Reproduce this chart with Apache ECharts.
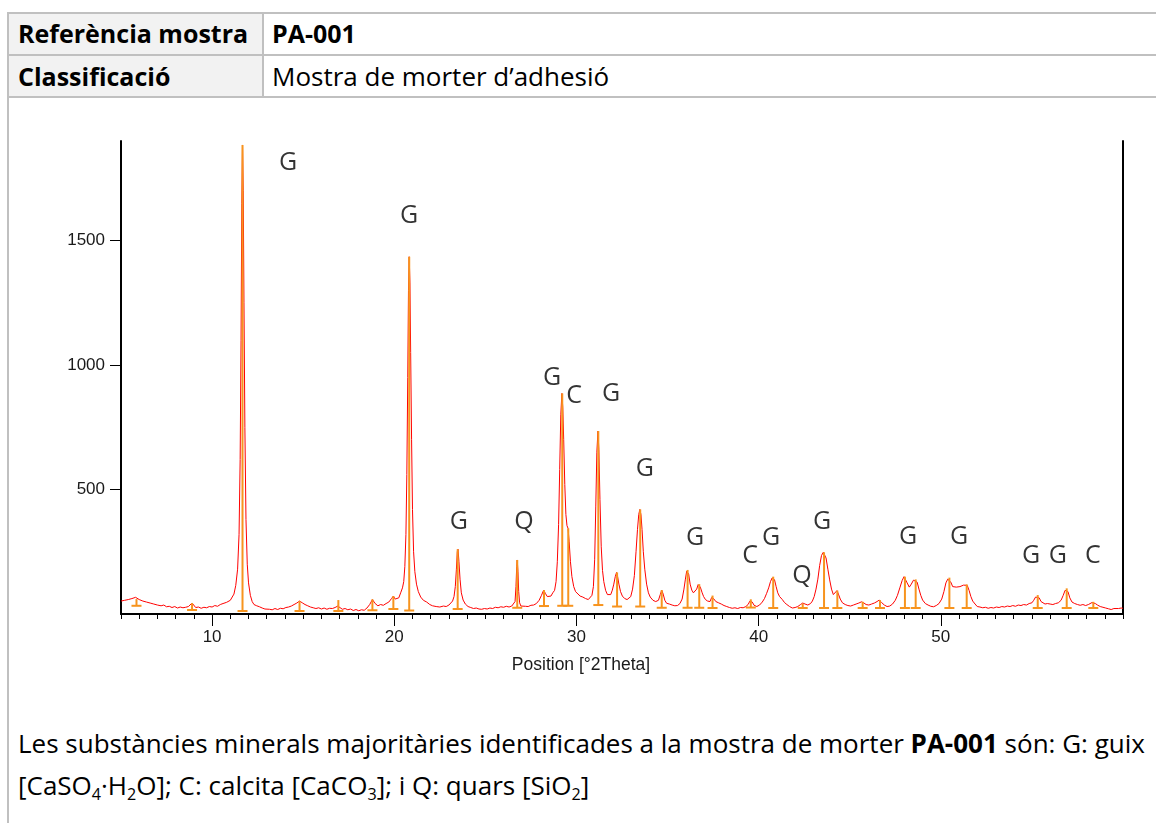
<!DOCTYPE html>
<html>
<head>
<meta charset="utf-8">
<script src="https://cdn.jsdelivr.net/npm/echarts@6/dist/echarts.min.js"></script>
<style>
  html, body { margin:0; padding:0; background:#fff; }
  body { width:1156px; height:823px; overflow:hidden; position:relative; font-family:'Open Sans','Lato',sans-serif; color:#000; }
  .abs { position:absolute; }
  .frame { left:7px; top:12px; width:1400px; height:1000px; border:2px solid #c0c0c0; box-sizing:border-box; }
  .hdr { left:9px; top:14px; width:254px; height:82px; background:#f2f2f2; }
  .hl { height:2px; background:#c0c0c0; left:7px; width:1400px; }
  .vl { width:2px; background:#c0c0c0; left:262px; top:12px; height:85px; }
  .cell { white-space:nowrap; font-size:26px; line-height:42px; }
  .cell.b { font-size:25px; }
  .b { font-weight:bold; }
  sub { font-size:0.62em; vertical-align:baseline; position:relative; top:0.3em; line-height:0; }
  #chart { position:absolute; left:0; top:0; width:1156px; height:823px; pointer-events:none; }
</style>
</head>
<body>
<div class="abs frame"></div>
<div class="abs hdr"></div>
<div class="abs hl" style="top:54px"></div>
<div class="abs hl" style="top:96px"></div>
<div class="abs vl"></div>
<div class="abs cell b" style="left:18px; top:12px;">Referència mostra</div>
<div class="abs cell b" style="left:272px; top:12px;">PA-001</div>
<div class="abs cell b" style="left:18px; top:55px;">Classificació</div>
<div class="abs cell" style="left:272px; top:55px;">Mostra de morter d’adhesió</div>
<div class="abs cell" style="left:18px; top:722px;">Les substàncies minerals majoritàries identificades a la mostra de morter <span class="b">PA-001</span> són: G: guix<br>[CaSO<sub>4</sub>·H<sub>2</sub>O]; C: calcita [CaCO<sub>3</sub>]; i Q: quars [SiO<sub>2</sub>]</div>
<div id="chart"></div>
<script>
// ---- data ----
const xTickLabels = [10, 20, 30, 40, 50];
const yTickLabels = [500, 1000, 1500];

// measured diffraction profile [2theta, counts]
const profile = [
[5.0,52],[5.1,47],[5.2,55],[5.3,50],[5.4,58],[5.5,54],[5.6,62],[5.7,60],[5.8,67],[5.9,63],[6.0,58],[6.1,60],[6.2,52],[6.3,54],[6.4,48],[6.5,50],[6.6,44],[6.7,46],[6.8,40],[6.9,42],[7.0,36],[7.1,39],[7.2,33],[7.35,36],[7.5,29],[7.65,31],[7.8,26],[7.95,30],[8.1,24],[8.25,28],[8.4,25],[8.55,27],[8.7,30],[8.8,38],[8.9,44],[9.0,36],[9.1,26],[9.25,28],[9.4,23],[9.55,27],[9.7,25],[9.85,30],[10.0,28],[10.15,34],[10.3,31],[10.45,38],[10.6,42],[10.7,38],[10.8,47],[10.9,44],[11.0,55],[11.1,62],[11.2,80],
[11.3,115],[11.4,180],[11.48,320],[11.54,620],[11.59,1100],[11.63,1650],[11.67,1884],[11.71,1700],[11.75,1250],[11.8,750],[11.86,380],[11.93,200],[12.0,125],[12.1,75],[12.2,50],[12.3,38],
[12.45,33],[12.6,29],[12.75,24],[12.9,20],[13.0,15],[13.15,19],[13.3,17],[13.45,22],[13.6,18],[13.75,23],[13.9,21],[14.05,26],[14.2,28],[14.35,32],[14.5,38],[14.65,44],[14.8,52],[14.95,45],[15.1,38],[15.25,33],[15.4,28],[15.55,25],[15.7,22],[15.85,25],[16.0,20],[16.15,24],[16.3,19],[16.45,23],[16.6,22],[16.75,26],[16.9,32],[17.0,24],[17.15,19],[17.3,22],[17.45,17],[17.6,20],[17.75,14],[17.9,18],[18.05,13],[18.2,17],[18.35,15],[18.5,24],[18.65,38],[18.8,58],[18.95,42],[19.1,33],[19.25,38],[19.4,35],[19.55,42],[19.7,48],[19.85,62],[19.95,72],[20.05,60],[20.15,55],[20.25,65],[20.35,85],
[20.45,105],[20.52,130],[20.58,190],[20.64,320],[20.69,560],[20.74,950],[20.78,1300],[20.82,1435],[20.86,1330],[20.9,1050],[20.95,700],[21.0,420],[21.06,250],[21.13,170],[21.22,120],[21.32,90],[21.45,68],[21.6,55],[21.78,48],[21.95,38],[22.1,33],[22.3,30],[22.5,28],[22.7,32],[22.85,30],[23.0,36],[23.1,40],[23.2,52],[23.28,70],[23.35,110],[23.41,180],[23.46,250],[23.5,260],[23.55,210],[23.61,140],[23.68,85],[23.78,56],[23.9,40],[24.05,30],[24.2,26],[24.35,22],[24.5,24],[24.65,20],[24.8,19],[24.95,22],[25.1,20],[25.25,24],[25.4,22],[25.55,27],[25.7,25],[25.85,29],[26.0,27],[26.15,31],[26.3,28],[26.45,32],[26.55,34],[26.63,50],[26.68,110],[26.72,190],[26.75,217],[26.79,170],[26.83,90],[26.88,45],[26.95,32],[27.05,29],[27.2,31],[27.35,30],[27.5,35],[27.65,36],[27.8,42],[27.95,55],[28.08,75],[28.2,96],[28.3,82],[28.4,70],[28.5,64],[28.6,72],[28.7,85],[28.8,95],[28.88,130],[28.95,210],[29.02,360],[29.08,580],[29.14,800],[29.2,886],[29.25,830],[29.3,700],[29.36,520],[29.42,400],[29.48,355],[29.54,344],[29.6,290],[29.67,210],[29.75,150],[29.85,110],[29.95,90],[30.05,82],[30.2,72],[30.35,68],[30.5,62],[30.65,58],[30.75,56],[30.85,75],[30.93,110],[31.0,220],[31.06,430],[31.12,650],[31.18,735],[31.23,660],[31.29,460],[31.36,270],[31.43,175],[31.5,130],[31.6,95],[31.7,78],[31.78,70],[31.88,78],[31.97,96],[32.05,120],[32.13,150],[32.2,167],[32.26,150],[32.33,120],[32.42,90],[32.52,72],[32.65,62],[32.78,58],[32.88,56],[32.98,70],[33.08,100],[33.18,155],[33.27,250],[33.35,340],[33.42,400],[33.48,420],[33.54,400],[33.6,340],[33.67,250],[33.75,180],[33.85,120],[33.95,85],[34.05,68],[34.2,55],[34.35,50],[34.5,55],[34.6,78],[34.68,96],[34.76,80],[34.85,55],[34.95,43],[35.1,40],[35.25,36],[35.4,33],[35.55,34],[35.68,42],[35.8,60],[35.9,100],[35.98,140],[36.05,172],[36.1,177],[36.16,160],[36.24,120],[36.33,96],[36.42,85],[36.52,88],[36.6,100],[36.68,118],[36.74,120],[36.8,108],[36.9,85],[36.98,70],[37.08,58],[37.2,52],[37.33,50],[37.42,66],[37.48,74],[37.55,60],[37.65,50],[37.8,45],[37.95,40],[38.1,34],[38.25,30],[38.4,26],[38.55,23],[38.7,25],[38.85,22],[39.0,26],[39.15,25],[39.3,30],[39.42,38],[39.52,52],[39.58,59],[39.65,48],[39.75,35],[39.9,30],[40.05,36],[40.2,48],[40.32,62],[40.44,83],[40.55,105],[40.65,130],[40.74,145],[40.8,150],[40.87,138],[40.96,110],[41.05,85],[41.15,70],[41.22,64],[41.3,58],[41.42,46],[41.55,38],[41.7,30],[41.85,24],[42.0,26],[42.15,30],[42.3,38],[42.42,44],[42.55,40],[42.7,36],[42.85,42],[42.95,52],[43.05,70],[43.15,100],[43.25,140],[43.35,195],[43.45,235],[43.55,248],[43.62,245],[43.7,225],[43.8,180],[43.9,137],[44.0,100],[44.1,78],[44.2,80],[44.3,94],[44.38,80],[44.48,60],[44.6,45],[44.75,38],[44.9,34],[45.05,32],[45.2,36],[45.35,40],[45.5,44],[45.65,49],[45.78,44],[45.9,38],[46.05,36],[46.2,40],[46.35,44],[46.5,50],[46.62,56],[46.75,46],[46.9,36],[47.05,30],[47.2,32],[47.35,40],[47.5,55],[47.62,75],[47.75,105],[47.88,135],[47.98,150],[48.05,148],[48.15,125],[48.27,108],[48.38,120],[48.5,136],[48.6,139],[48.7,128],[48.8,100],[48.9,75],[49.0,56],[49.15,42],[49.3,36],[49.45,31],[49.6,29],[49.75,34],[49.9,42],[50.05,60],[50.17,90],[50.28,125],[50.38,140],[50.47,146],[50.55,128],[50.65,110],[50.75,106],[50.85,108],[50.95,104],[51.05,110],[51.15,112],[51.25,116],[51.35,119],[51.45,115],[51.55,95],[51.65,70],[51.75,52],[51.88,40],[52.0,30],[52.15,28],[52.3,25],[52.45,27],[52.6,23],[52.75,26],[52.9,24],[53.05,28],[53.2,26],[53.35,30],[53.5,28],[53.65,32],[53.8,30],[53.95,34],[54.1,31],[54.25,36],[54.4,34],[54.55,38],[54.7,36],[54.85,42],[55.0,45],[55.1,55],[55.2,68],[55.3,76],[55.4,65],[55.5,50],[55.6,44],[55.72,40],[55.85,42],[56.0,40],[56.15,38],[56.3,42],[56.45,45],[56.6,55],[56.72,75],[56.82,95],[56.9,103],[56.98,90],[57.08,65],[57.2,48],[57.35,42],[57.5,38],[57.65,35],[57.8,38],[57.95,34],[58.1,38],[58.2,42],[58.3,46],[58.38,49],[58.48,42],[58.6,36],[58.75,30],[58.9,27],[59.05,24],[59.2,21],[59.35,18],[59.5,22],[59.6,26],[59.75,22],[59.9,24],[60.0,23]
];

// reference pattern sticks
const stickPos  = [5.85, 8.9, 11.67, 14.8, 16.93, 18.8, 19.95, 20.82, 23.48, 26.75, 28.22, 29.22, 29.55, 31.2, 32.23, 33.5, 34.68, 36.1, 36.74, 37.47, 39.57, 40.8, 42.42, 43.59, 44.32, 45.71, 46.66, 48.03, 48.62, 50.47, 51.42, 55.32, 56.91, 58.37];
const stickTop  = [60, 44, 1884, 52, 56, 59, 72, 1435, 260, 217, 96, 886, 344, 735, 167, 420, 96, 177, 120, 74, 59, 150, 42, 248, 94, 49, 56, 150, 139, 146, 119, 76, 103, 49];
const stickBase = [33, 16, 12, 12, 12, 15, 20, 14, 20, 25, 32, 33, 33, 36, 30, 30, 25, 25, 25, 24, 26, 24, 24, 24, 24, 24, 24, 24, 24, 24, 24, 24, 24, 24];

// phase annotations
const annotText = ['G','G','G','Q','G','C','G','G','G','C','G','Q','G','G','G','G','G','C'];
const annotX    = [14.17, 20.81, 23.55, 27.12, 28.66, 29.87, 31.9, 33.76, 36.51, 39.53, 40.68, 42.38, 43.48, 48.2, 51.0, 54.95, 56.43, 58.35];
const annotY    = [1812, 1599, 370, 370, 948, 876, 884, 582, 305, 233, 305, 153, 370, 309, 309, 233, 233, 233];

// ---- chart ----
const chart = echarts.init(document.getElementById('chart'), null, {renderer:'canvas'});
const sticks = stickPos.map((x, i) => [x, stickTop[i], stickBase[i]]);
const annots = annotText.map((t, i) => ({ name: t, value: [annotX[i], annotY[i]] }));
const axisFont = { fontFamily: 'Liberation Sans, Arial, sans-serif', fontSize: 17, color: '#1a1a1a' };

chart.setOption({
  animation: false,
  grid: { left: 121, top: 141, width: 1002, height: 473, containLabel: false, outerBoundsMode: 'none' },
  xAxis: [
    { type: 'value', min: 5, max: 60, interval: 1, position: 'bottom',
      axisLine: { show: true, onZero: false, lineStyle: { color: '#000', width: 2 } },
      axisTick: { show: true, length: 5, lineStyle: { color: '#000', width: 1 } },
      axisLabel: { show: false }, splitLine: { show: false } },
    { type: 'value', min: 5, max: 60, position: 'bottom',
      axisLine: { show: false, onZero: false },
      axisTick: { show: true, length: 12, customValues: xTickLabels, lineStyle: { color: '#000', width: 1 } },
      axisLabel: Object.assign({ show: true, margin: 15, customValues: xTickLabels, formatter: v => String(v) }, axisFont),
      splitLine: { show: false },
      name: 'Position [°2Theta]', nameLocation: 'middle', nameGap: 42,
      nameTextStyle: { fontFamily: 'Liberation Sans, Arial, sans-serif', fontSize: 17.5, color: '#1a1a1a', padding: [0, 82, 0, 0] } }
  ],
  yAxis: [
    { type: 'value', min: 0, max: 1900, position: 'left',
      axisLine: { show: true, onZero: false, lineStyle: { color: '#000', width: 2 } },
      axisTick: { show: true, length: 11, customValues: yTickLabels, lineStyle: { color: '#000', width: 1 } },
      axisLabel: Object.assign({ show: true, margin: 16, customValues: yTickLabels, formatter: v => String(v) }, axisFont),
      splitLine: { show: false } },
    { type: 'value', min: 0, max: 1900, position: 'right',
      axisLine: { show: true, onZero: false, lineStyle: { color: '#000', width: 2 } },
      axisTick: { show: false }, axisLabel: { show: false }, splitLine: { show: false } }
  ],
  series: [
    { type: 'line', name: 'profile', data: profile, xAxisIndex: 0, yAxisIndex: 0,
      showSymbol: false, symbol: 'none', sampling: null, smooth: false,
      lineStyle: { color: '#ff0000', width: 1 }, z: 2 },
    { type: 'custom', name: 'sticks', data: sticks, xAxisIndex: 0, yAxisIndex: 0, z: 3,
      renderItem: function (params, api) {
        const p0 = api.coord([api.value(0), api.value(2)]);
        const p1 = api.coord([api.value(0), api.value(1)]);
        const st = { stroke: '#f7941e', lineWidth: 2 };
        return { type: 'group', children: [
          { type: 'line', shape: { x1: p0[0], y1: p0[1], x2: p1[0], y2: p1[1] }, style: st },
          { type: 'line', shape: { x1: p0[0] - 5, y1: p0[1], x2: p0[0] + 5, y2: p0[1] }, style: st }
        ]};
      } },
    { type: 'scatter', name: 'phases', data: annots, xAxisIndex: 0, yAxisIndex: 0, z: 4,
      symbolSize: 2, itemStyle: { color: 'rgba(0,0,0,0)' },
      label: { show: true, position: 'inside', formatter: '{b}', fontFamily: 'Open Sans, Lato, sans-serif', fontSize: 25, color: '#000' } }
  ]
});
</script>
</body>
</html>
